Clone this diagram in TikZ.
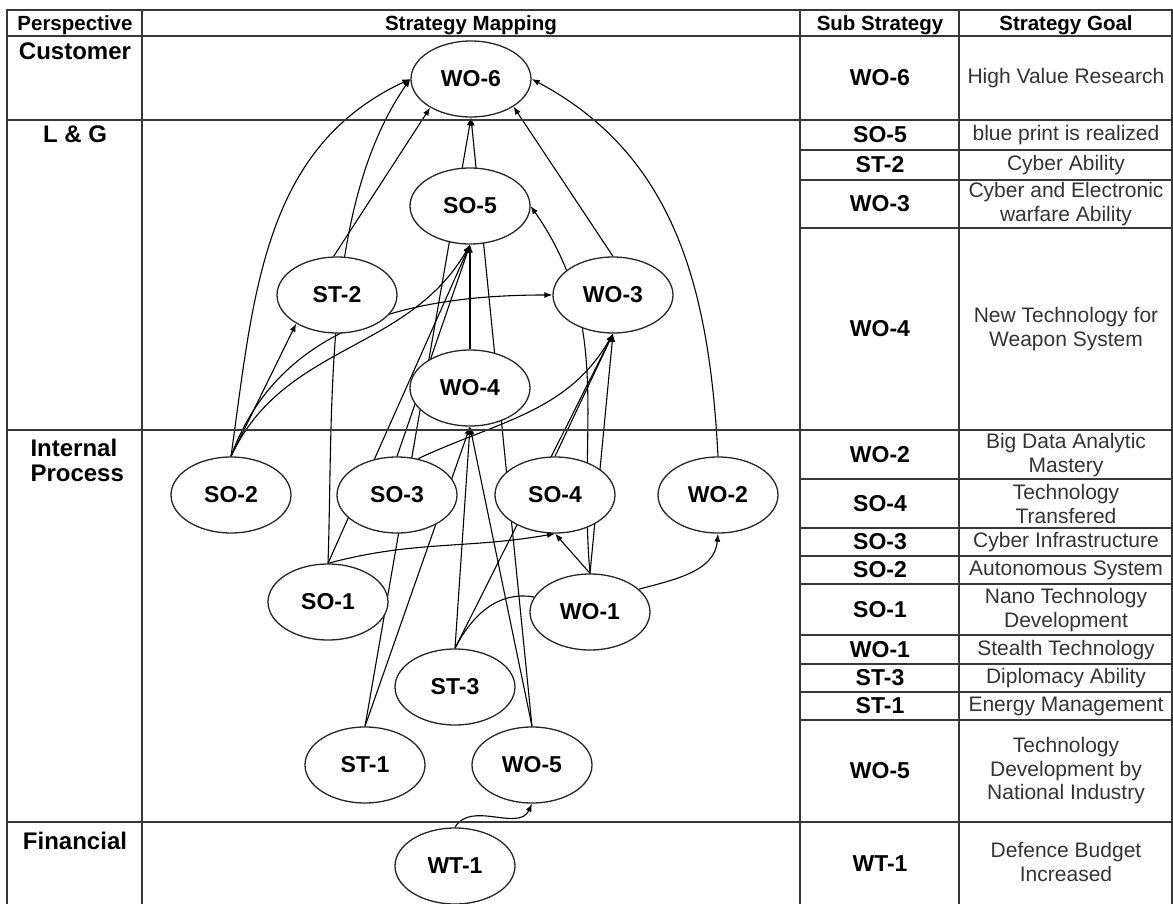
\documentclass[tikz,border=0pt]{standalone}
\usepackage{fontspec}
\setmainfont{Liberation Sans}
\usetikzlibrary{shapes.geometric,arrows.meta,backgrounds}
\tikzset{
  >={Latex[length=8pt,width=6pt]},
  strat/.style={ellipse,draw=black!85,line width=1.3pt,fill=white,minimum width=120pt,minimum height=76pt,inner sep=0pt,font=\fontsize{23}{26}\selectfont\bfseries},
  grid/.style={draw=black!78,line width=1.7pt},
  head/.style={anchor=base,font=\fontsize{20.5}{23}\selectfont\bfseries},
  persp/.style={anchor=base,font=\fontsize{24}{25}\selectfont\bfseries},
  sub/.style={font=\fontsize{23}{26}\selectfont\bfseries},
  goal/.style={align=center,text=black!80,font=\fontsize{21}{23.5}\selectfont},
  link/.style={->,line width=1.1pt},
}
\begin{document}
\begin{tikzpicture}[x=1pt,y=-1pt]
            \useasboundingbox (0,0) rectangle (1173,904);
            % table frame
            \draw[grid] (7,904) -- (7,10) -- (1172,10) -- (1172,904);
            \draw[grid] (142,10) -- (142,904);
            \draw[grid] (800,10) -- (800,904);
            \draw[grid] (959,10) -- (959,904);
            \foreach \y in {36,120,430,822} \draw[grid] (7,\y) -- (1172,\y);
            \foreach \y in {150,180,228,479,528,556,584,635,664,692,720} \draw[grid] (800,\y) -- (1172,\y);
            \node[head] (hpersp) at (75,31) {Perspective};
            \node[head] (hmap) at (471,31) {Strategy Mapping};
            \node[head] (hsub) at (880,31) {Sub Strategy};
            \node[head] (hgoal) at (1066,31) {Strategy Goal};
            \node[persp] (pcust) at (75,60) {Customer};
            \node[persp] (plg) at (75,143) {L \& G};
            \node[persp,anchor=base west,align=left] (pint) at (27,481) {Internal\\[-0.5pt]Process};
            \node[persp] (pfin) at (75,849) {Financial};
            % sub strategies and goals
            \node[sub] (s1) at (880,78) {WO-6};   \node[goal] (g1) at (1066,78) {High Value Research};
            \node[sub] (s2) at (880,135) {SO-5};  \node[goal] (g2) at (1066,135) {blue print is realized};
            \node[sub] (s3) at (880,165) {ST-2};  \node[goal] (g3) at (1066,165) {Cyber Ability};
            \node[sub] (s4) at (880,204) {WO-3};  \node[goal] (g4) at (1066,204) {Cyber and Electronic\\warfare Ability};
            \node[sub] (s5) at (880,329) {WO-4};  \node[goal] (g5) at (1066,329) {New Technology for\\Weapon System};
            \node[sub] (s6) at (880,455) {WO-2};  \node[goal] (g6) at (1066,455) {Big Data Analytic\\Mastery};
            \node[sub] (s7) at (880,504) {SO-4};  \node[goal] (g7) at (1066,504) {Technology\\Transfered};
            \node[sub] (s8) at (880,542) {SO-3};  \node[goal] (g8) at (1066,542) {Cyber Infrastructure};
            \node[sub] (s9) at (880,570) {SO-2};  \node[goal] (g9) at (1066,570) {Autonomous System};
            \node[sub] (s10) at (880,610) {SO-1}; \node[goal] (g10) at (1066,610) {Nano Technology\\Development};
            \node[sub] (s11) at (880,650) {WO-1}; \node[goal] (g11) at (1066,650) {Stealth Technology};
            \node[sub] (s12) at (880,678) {ST-3}; \node[goal] (g12) at (1066,678) {Diplomacy Ability};
            \node[sub] (s13) at (880,706) {ST-1}; \node[goal] (g13) at (1066,706) {Energy Management};
            \node[sub] (s14) at (880,771) {WO-5}; \node[goal] (g14) at (1066,771) {Technology\\Development by\\National Industry};
            \node[sub] (s15) at (880,864) {WT-1}; \node[goal] (g15) at (1066,862) {Defence Budget\\Increased};
            % strategy map
            \node[strat] (wo6) at (471,79) {WO-6};
            \node[strat] (so5) at (470,206) {SO-5};
            \node[strat] (st2) at (337,295) {ST-2};
            \node[strat] (wo3) at (613,295) {WO-3};
            \node[strat] (wo4) at (470,388) {WO-4};
            \node[strat] (so2) at (231,495) {SO-2};
            \node[strat] (so3) at (397,495) {SO-3};
            \node[strat] (so4) at (555,495) {SO-4};
            \node[strat] (wo2) at (718,495) {WO-2};
            \node[strat] (so1) at (328,602) {SO-1};
            \node[strat] (wo1) at (590,612) {WO-1};
            \node[strat] (st3) at (455,687) {ST-3};
            \node[strat] (st1) at (365,765) {ST-1};
            \node[strat] (wo5) at (532,765) {WO-5};
            \node[strat] (wt1) at (455,866) {WT-1};
            \begin{scope}[on background layer]
            \draw[link] (so2.north) to[out=82,in=205] (wo6.west);
            \draw[link] (so1.north) to[out=88,in=235,looseness=0.8] (wo6.west);
            \draw[link] (st2.95) -- (wo6.215);
            \draw[link] (so2.north) -- (st2.215);
            \draw[link] (so2.north) to[out=70,in=180] (wo3.west);
            \draw[link] (so2.north) to[out=65,in=240] (so5.south);
            \draw[link] (so1.north) -- (so5.south);
            \draw[link] (so3.north) -- (so5.south);
            \draw[link] (wo4.north) -- (so5.south);
            \draw[link] (st1.north) -- (wo6.south);
            \draw[link] (wo5.north) -- (wo6.south);
            \draw[link] (st1.north) -- (wo4.south);
            \draw[link] (st3.north) -- (wo4.south);
            \draw[link] (wo5.north) -- (wo4.south);
            \draw[link] (st3.north) -- (wo3.south);
            \draw[link] (so4.north) -- (wo3.south);
            \draw[link] (wo1.north) -- (wo3.south);
            \draw[link] (wo1.north) -- (so4.south);
            \draw[link] (wo1.north) to[out=95,in=-55] (so5.east);
            \draw[link] (wo1.25) to[out=15,in=-95] (wo2.south);
            \draw[line width=1.1pt] (wo1.165) to[out=170,in=63] (st3.north);
            \draw[link] (so1.north) to[out=15,in=190] (so4.south);
            \draw[link] (so3.60) to[out=25,in=240] (wo3.south);
            \draw[link] (wo3.north) -- (wo6.-33);
            \draw[link] (wo2.north) to[out=93,in=-28] (wo6.east);
            \draw[link] (wt1.north) to[out=60,in=245] (wo5.south);
            \end{scope}
        \end{tikzpicture}
\end{document}
